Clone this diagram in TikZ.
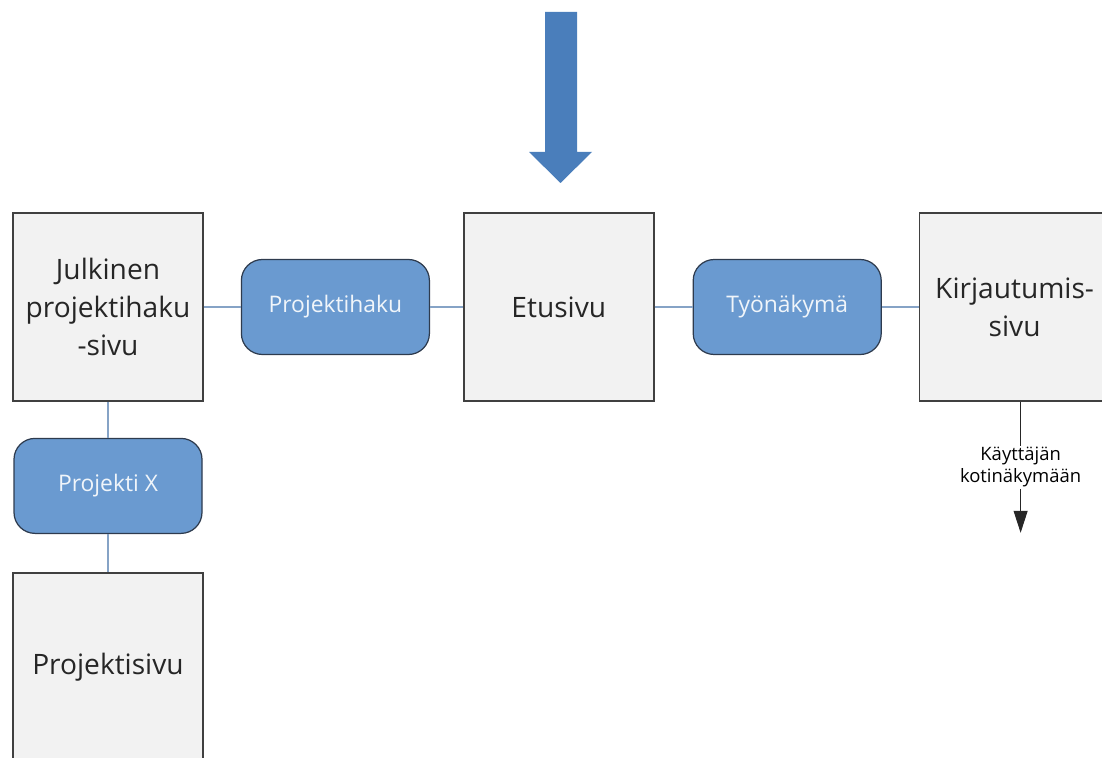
\documentclass[tikz,border=0pt]{standalone}
\usepackage{fontspec}
\setmainfont{Open Sans}
\usepackage{tikz}
\usetikzlibrary{positioning,arrows.meta}
\definecolor{pagefill}{HTML}{F2F2F2}
\definecolor{pageline}{HTML}{404040}
\definecolor{linkfill}{HTML}{6A9AD0}
\definecolor{linkline}{HTML}{2E3B4E}
\definecolor{conline}{HTML}{86A3C6}
\definecolor{bigblue}{HTML}{4A7EBB}
\tikzset{
  pg/.style={rectangle,draw=pageline,line width=0.9pt,fill=pagefill,minimum width=3.8cm,minimum height=3.76cm,align=center,text=black!85,font=\fontsize{16}{21.5}\selectfont},
  lnk/.style={rectangle,draw=linkline,line width=0.7pt,rounded corners=0.42cm,fill=linkfill,minimum width=3.76cm,minimum height=1.9cm,align=center,text=white!90!linkfill,font=\fontsize{13}{15}\selectfont},
  con/.style={draw=conline,line width=0.9pt},
  arr/.style={-{Triangle[length=0.44cm,width=0.28cm]},line width=0.6pt,draw=black!85,fill=black},
  lbl/.style={fill=white,inner sep=1pt,align=center,font=\fontsize{10.5}{12.5}\selectfont},
}
\begin{document}
\begin{tikzpicture}[node distance=0.74cm]
  \useasboundingbox (0,0) rectangle (22.04,-15.16);
  \clip (0,0) rectangle (22.04,-15.16);
  \fill[bigblue] (10.9,-0.24) -- (11.54,-0.24) -- (11.54,-3.04) -- (11.84,-3.04) -- (11.21,-3.66) -- (10.58,-3.04) -- (10.9,-3.04) -- cycle;
  \node[pg] (jul) at (2.16,-6.14) {Julkinen\\projektihaku\\-sivu};
  \node[lnk,right=of jul] (haku) {Projektihaku};
  \node[pg,right=0.66cm of haku] (etu) {Etusivu};
  \node[lnk,right=0.76cm of etu] (tyo) {Työnäkymä};
  \node[pg,right=0.74cm of tyo] (kirj) {Kirjautumis-\\sivu};
  \node[lnk,below=0.72cm of jul] (px) {Projekti X};
  \node[pg,below=0.76cm of px] (psivu) {Projektisivu};
  \draw[con] (jul) -- (haku);
  \draw[con] (haku) -- (etu);
  \draw[con] (etu) -- (tyo);
  \draw[con] (tyo) -- (kirj);
  \draw[con] (jul) -- (px);
  \draw[con] (px) -- (psivu);
  \draw[arr] ([xshift=0.12cm]kirj.south) -- node[lbl] (koti) {Käyttäjän\\kotinäkymään} ++(0,-2.62);
\end{tikzpicture}
\end{document}
